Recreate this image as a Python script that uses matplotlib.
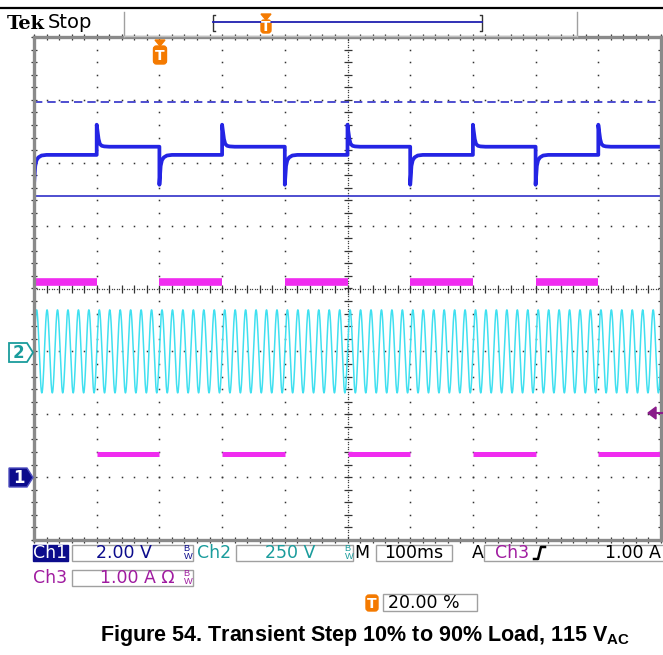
import numpy as np
import matplotlib
matplotlib.use('Agg')
import matplotlib.pyplot as plt
from matplotlib.patches import Rectangle, Polygon, FancyBboxPatch

plt.rcParams['mathtext.fontset'] = 'custom'
plt.rcParams['mathtext.bf'] = 'Liberation Sans:bold'
plt.rcParams['mathtext.rm'] = 'Liberation Sans'

# scope settings
time_per_div_ms = 100.0
ch1_volts_per_div = 2.0
ch1_ground_div = -3.0
ch2_volts_per_div = 250.0
ch2_ground_div = -1.0
ch3_amps_per_div = 1.0
ch3_ground_div = -3.0
trigger_pos_div = 2.0       # 20.00 %

# load steps (ms): 90 % load starts / 10 % load starts
heavy_start_ms = [0, 200, 400, 600, 800]
light_start_ms = [100, 300, 500, 700, 900]
i_heavy_a = 3.10
i_light_a = 0.36

# ch1 output voltage, steady levels and step responses
v_heavy = 10.25
v_light = 10.51
undershoot_t_ms = [0, 1, 2, 4, 7, 12, 20]
undershoot_v = [9.30, 9.60, 9.90, 10.08, 10.17, 10.23, 10.25]
overshoot_t_ms = [0, 1, 3, 5, 8, 12, 20]
overshoot_v = [11.21, 11.05, 10.75, 10.60, 10.54, 10.52, 10.51]

# ch1 cursor lines
cursor_hi_v = 11.94
cursor_lo_v = 8.95

# ch2 ac input
vin_peak = 165.0
line_hz = 60.0

NAVY = '#0c0c8c'
BLUE = '#2424e4'
TEAL = '#1a9c9c'
CYAN = '#40e0f0'
MAG = '#f02cf0'
PURP = '#a01ca0'
ORANGE = '#f47a00'
W, H = 663, 655

fig = plt.figure(figsize=(W / 100, H / 100), dpi=100)
ax = fig.add_axes([34 / W, 1 - 540 / H, 627 / W, 503 / H])
ax.set_xlim(0, 10)
ax.set_ylim(-4, 4)
for s in ax.spines.values():
    s.set_color('#8a8a8a')
    s.set_linewidth(2.4)
ax.set_xticks([])
ax.set_yticks([])

# graticule dots
fine = np.arange(0, 10.001, 0.2)
finey = np.arange(-4, 4.001, 0.2)
for gx in range(1, 10):
    if gx == 5:
        continue
    ax.plot(np.full(finey.size, gx), finey, ls='none', marker='s', ms=1.1, color='#333333', mec='none')
for gy in range(-3, 4):
    if gy == 0:
        continue
    ax.plot(fine, np.full(fine.size, gy), ls='none', marker='s', ms=1.1, color='#333333', mec='none')
# center cross
dense = np.arange(0, 10.001, 0.04)
densey = np.arange(-4, 4.001, 0.04)
ax.plot(np.full(densey.size, 5), densey, ls='none', marker='s', ms=0.9, color='#444444', mec='none')
ax.plot(dense, np.zeros(dense.size), ls='none', marker='s', ms=0.9, color='#444444', mec='none')
ax.plot(np.full(finey.size, 5), finey, ls='none', marker='_', ms=6, mew=0.9, color='#333333')
ax.plot(fine, np.zeros(fine.size), ls='none', marker='|', ms=6, mew=0.9, color='#333333')
# border ruler ticks
for yy in [4, -4]:
    ax.plot(fine, np.full(fine.size, yy), ls='none', marker='|', ms=5, mew=0.9, color='#333333', clip_on=False)
for xx in [0, 10]:
    ax.plot(np.full(finey.size, xx), finey, ls='none', marker='_', ms=5, mew=0.9, color='#333333', clip_on=False)

# ch1 cursor lines
ax.axhline(cursor_hi_v / ch1_volts_per_div + ch1_ground_div, color='#3030c8', lw=1.2, ls=(0, (5, 3)))
ax.axhline(cursor_lo_v / ch1_volts_per_div + ch1_ground_div, color='#3030c8', lw=1.2)

# ch2 line voltage
t = np.linspace(0, 10 * time_per_div_ms, 8001)
vin = vin_peak * np.sin(2 * np.pi * line_hz * t / 1000.0)
ax.plot(t / time_per_div_ms, vin / ch2_volts_per_div + ch2_ground_div, color=CYAN, lw=1.1)

# ch3 load current
for s in heavy_start_ms:
    ax.plot([s / time_per_div_ms, (s + 100) / time_per_div_ms],
            [i_heavy_a / ch3_amps_per_div + ch3_ground_div] * 2, color=MAG, lw=5.5, solid_capstyle='butt')
for s in light_start_ms:
    ax.plot([s / time_per_div_ms, (s + 100) / time_per_div_ms],
            [i_light_a / ch3_amps_per_div + ch3_ground_div] * 2, color=MAG, lw=3.6, solid_capstyle='butt')

# ch1 output voltage
tt, vv = [], []
for s in sorted(heavy_start_ms + light_start_ms):
    if s in heavy_start_ms:
        tt += [s + d for d in undershoot_t_ms] + [s + 100]
        vv += undershoot_v + [v_heavy]
    else:
        tt += [s + d for d in overshoot_t_ms] + [s + 100]
        vv += overshoot_v + [v_light]
ax.plot(np.array(tt) / time_per_div_ms, np.array(vv) / ch1_volts_per_div + ch1_ground_div,
        color=BLUE, lw=2.7)

# overlay in pixel coordinates
ov = fig.add_axes([0, 0, 1, 1])
ov.set_xlim(0, W)
ov.set_ylim(H, 0)
ov.axis('off')
ov.patch.set_alpha(0)

# header
ov.plot([0, W], [7.5, 7.5], color='black', lw=1.6)
ov.text(7, 24, 'Tek', fontsize=14, fontweight='bold', family='DejaVu Serif', va='center')
ov.text(48, 23, 'Stop', fontsize=14, family='DejaVu Sans', va='center')
ov.plot([124, 124], [12, 37], color='#a0a0a0', lw=1)
ov.plot([577, 577], [12, 37], color='#a0a0a0', lw=1)
ov.plot([124, 577], [36, 36], color='#c0c0c0', lw=1)
ov.plot([215, 213, 213, 215], [15, 15, 31, 31], color='#333333', lw=1)
ov.plot([480, 482, 482, 480], [15, 15, 31, 31], color='#333333', lw=1)
ov.plot([213, 482], [22, 22], color='#2020b0', lw=1.3)


def trig_icon(x, y0, h=18, w=13, tri=True):
    if tri:
        ov.add_patch(Polygon([[x - 5, y0], [x + 5, y0], [x, y0 + 6]], color=ORANGE))
        y0 += 6
    ov.add_patch(FancyBboxPatch((x - w / 2 + 1, y0 + 1), w - 2, h - 2,
                                boxstyle='round,pad=1,rounding_size=3', color=ORANGE))
    ov.text(x, y0 + h / 2 + 0.5, 'T', color='white', fontsize=10, fontweight='bold',
            ha='center', va='center')


trig_icon(266, 14, h=13, w=10)
trig_icon(160, 40, h=18, w=13)

# channel ground markers
ov.add_patch(Polygon([[9, 343], [27, 343], [33, 352.5], [27, 362], [9, 362]],
                     facecolor='white', edgecolor=TEAL, lw=1.3))
ov.text(18.5, 353, '2', color=TEAL, fontsize=12, fontweight='bold', ha='center', va='center')
ov.add_patch(Polygon([[9, 468], [27, 468], [33, 477.5], [27, 487], [9, 487]],
                     facecolor=NAVY, edgecolor='#5050c0', lw=1))
ov.text(18.5, 478, '1', color='white', fontsize=12, fontweight='bold', ha='center', va='center')

# trigger level arrow
ov.add_patch(Polygon([[648, 413], [656, 407], [656, 419]], color='#8a1a8a'))
ov.plot([655, 662], [413, 413], color='#8a1a8a', lw=1.5)

# readouts
fs = 12.5


def box(x0, x1, y0, y1):
    ov.add_patch(Rectangle((x0, y0), x1 - x0, y1 - y0, facecolor='white', edgecolor='#a0a0a0', lw=1))


def bw(x, y, c):
    ov.text(x, y, r'${}^{\mathrm{B}}_{\mathrm{W}}$', color=c, fontsize=9.5, ha='center', va='center')


ov.add_patch(Rectangle((33, 545), 35, 16, color=NAVY))
ov.text(50.5, 553, 'Ch1', color='white', fontsize=fs, ha='center', va='center')
box(72, 193, 545, 561)
ov.text(124, 553, '2.00 V', color=NAVY, fontsize=fs, ha='center', va='center')
bw(188, 553, NAVY)
ov.text(197, 553, 'Ch2', color=TEAL, fontsize=fs, ha='left', va='center')
box(236, 353, 545, 561)
ov.text(290, 553, '250 V', color=TEAL, fontsize=fs, ha='center', va='center')
bw(349, 553, TEAL)
ov.text(362, 553, 'M', color='black', fontsize=fs, ha='center', va='center')
box(376, 452, 545, 561)
ov.text(414, 553, '100ms', color='black', fontsize=fs, ha='center', va='center')
ov.text(478, 553, 'A', color='black', fontsize=fs, ha='center', va='center')
box(484, 670, 545, 561)
ov.text(512, 553, 'Ch3', color=PURP, fontsize=fs, ha='center', va='center')
ov.plot([534, 538, 541, 545], [559, 559, 547, 547], color='black', lw=1.8)
ov.text(661, 553, '1.00 A', color='black', fontsize=fs, ha='right', va='center')

ov.text(50.5, 578, 'Ch3', color=PURP, fontsize=fs, ha='center', va='center')
box(72, 193, 570, 586)
ov.text(137, 578, '1.00 A \u03a9', color=PURP, fontsize=fs, ha='center', va='center')
bw(188, 578, PURP)

trig_icon(372, 595, h=16, w=12, tri=False)
box(383, 477, 594, 611)
ov.text(388, 602.5, '20.00 %', color='black', fontsize=fs, ha='left', va='center')

ov.text(365, 636, r'Figure 54. Transient Step 10% to 90% Load, 115 V$_{\mathbf{AC}}$',
        fontsize=15.5, fontweight='bold', family='Liberation Sans', ha='center', va='center')

fig.savefig('out.png', dpi=100)
